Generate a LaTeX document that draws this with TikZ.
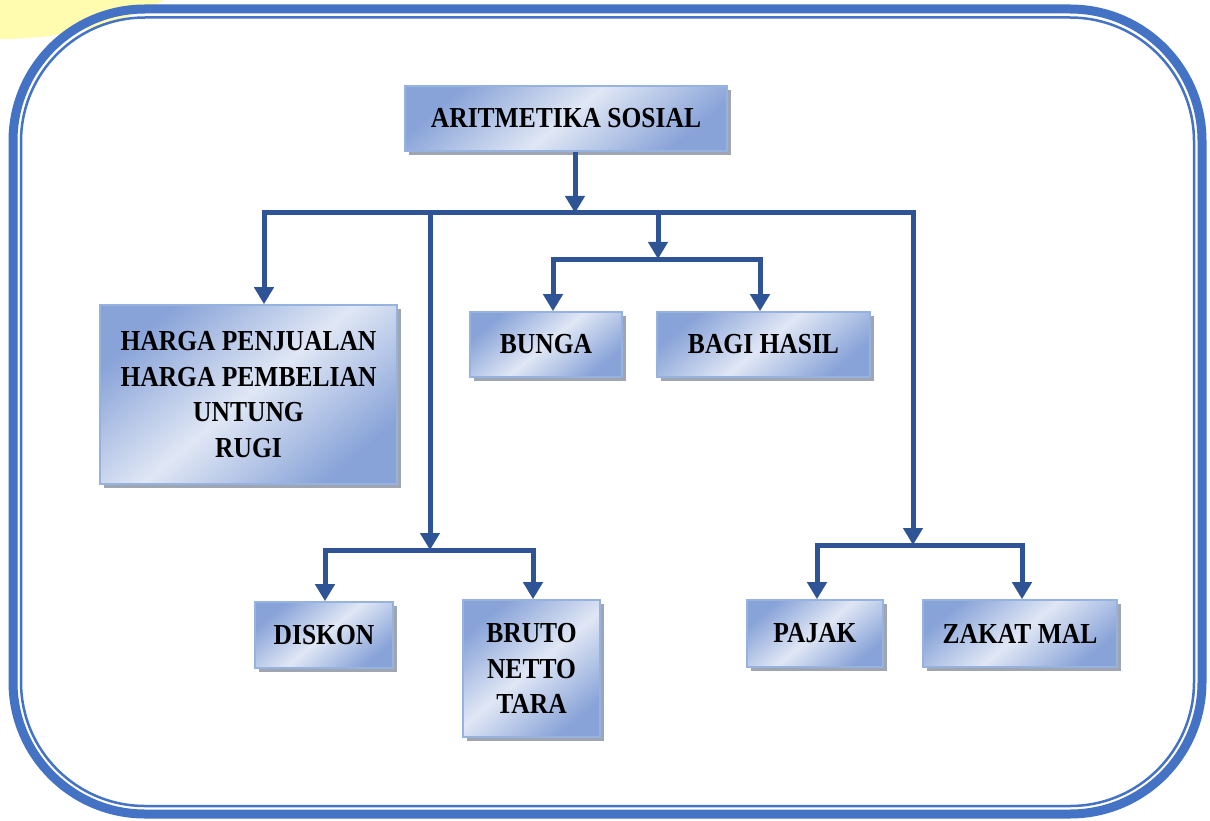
\documentclass[tikz,border=0pt]{standalone}
\usepackage{fontspec}
\usetikzlibrary{arrows.meta,shadows}
\newfontfamily\bxfont[FakeStretch=0.88]{Liberation Serif}
\definecolor{framec}{RGB}{68,114,196}
\definecolor{yellowc}{RGB}{255,251,175}
\definecolor{linec}{RGB}{47,84,150}
\definecolor{boxdark}{RGB}{136,163,216}
\definecolor{boxlight}{RGB}{224,231,245}
\definecolor{boxedge}{RGB}{150,178,222}
\definecolor{shadowc}{RGB}{150,156,170}
\tikzset{
  x=1pt,y=-1pt,
  boxnode/.style={draw=boxedge, line width=1.6pt,
    top color=boxdark, bottom color=boxdark, middle color=boxlight,
    shading angle=40,
    drop shadow={shadow xshift=4pt, shadow yshift=-4pt, fill=shadowc, opacity=0.9},
    align=center, inner sep=0pt, text=black,
    font=\bxfont\bfseries\fontsize{29}{35.5}\selectfont},
  conn/.style={draw=linec, line width=5pt, line join=miter},
  arr/.style={conn, -{Triangle[width=19pt 0,length=17pt 0]}},
}
\begin{document}
\begin{tikzpicture}
\useasboundingbox (0,0) rectangle (1210,821);
\fill[white] (0,0) rectangle (1210,821);
% yellow blob
\fill[yellowc] (0,-100) ellipse [x radius=236, y radius=139];
% frame
\draw[framec, line width=9pt, rounded corners=132pt] (13,9) rectangle (1202,814);
\draw[framec, line width=2.5pt, rounded corners=124pt] (21,17.5) rectangle (1194,806);

% nodes
\node[boxnode, minimum width=322pt, minimum height=65pt] (root) at (566,118.5) {ARITMETIKA SOSIAL};
\node[boxnode, minimum width=297pt, minimum height=179pt] (harga) at (248.5,394.5) {HARGA PENJUALAN\\HARGA PEMBELIAN\\UNTUNG\\RUGI};
\node[boxnode, minimum width=152pt, minimum height=65pt] (bunga) at (546,344.5) {BUNGA};
\node[boxnode, minimum width=213pt, minimum height=65pt] (bagi) at (763.5,344.5) {BAGI HASIL};
\node[boxnode, minimum width=138pt, minimum height=66pt] (diskon) at (324,635) {DISKON};
\node[boxnode, minimum width=137pt, minimum height=137pt] (bruto) at (531.5,668.5) {BRUTO\\NETTO\\TARA};
\node[boxnode, minimum width=136pt, minimum height=67pt] (pajak) at (815,633.5) {PAJAK};
\node[boxnode, minimum width=194pt, minimum height=67pt] (zakat) at (1020,633.5) {ZAKAT MAL};

% junction coordinates
\coordinate (j0) at (575,213);
\coordinate (hl) at (264,213);
\coordinate (hr) at (913,213);
\coordinate (jm) at (658,259);
\coordinate (jl) at (430,550);
\coordinate (jr) at (913,545);
\coordinate (bu) at (553,259);
\coordinate (ba) at (760,259);
\coordinate (di) at (325,550);
\coordinate (br) at (533,550);
\coordinate (pa) at (817,545);
\coordinate (za) at (1022,545);

% connectors
\draw[arr] (root.south -| j0) -- (j0);
\draw[arr] (hr) -- (hl) -- (hl |- harga.north);
\draw[arr] (hl) -- (hr) -- (jr);
\draw[arr] (jl |- hl) -- (jl);
\draw[arr] (jm |- hl) -- (jm);
\draw[arr] (jm) -- (bu) -- (bu |- bunga.north);
\draw[arr] (jm) -- (ba) -- (ba |- bagi.north);
\draw[arr] (jl) -- (di) -- (di |- diskon.north);
\draw[arr] (jl) -- (br) -- (br |- bruto.north);
\draw[arr] (jr) -- (pa) -- (pa |- pajak.north);
\draw[arr] (jr) -- (za) -- (za |- zakat.north);
\end{tikzpicture}
\end{document}
